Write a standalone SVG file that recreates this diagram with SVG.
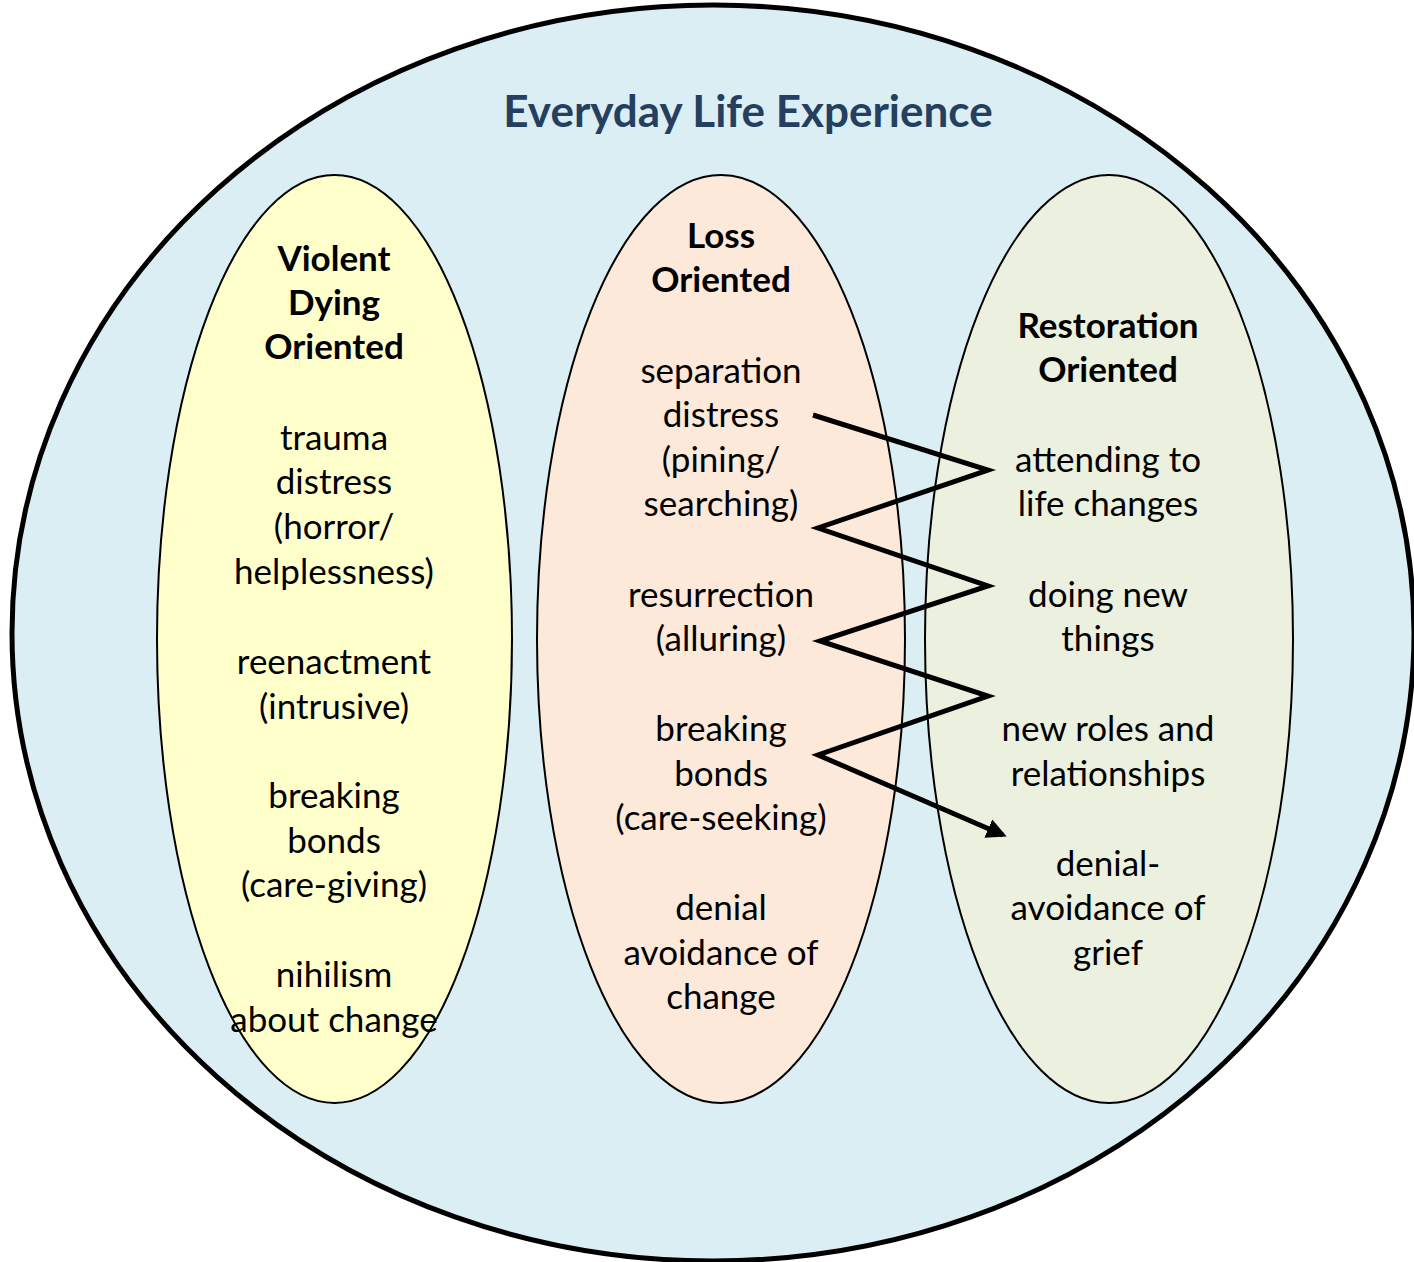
<svg xmlns="http://www.w3.org/2000/svg" width="1414" height="1262" viewBox="0 0 1414 1262">
<defs>
<style>
.t{font-family:Lato,"Liberation Sans",sans-serif;font-size:35px;fill:#000;text-anchor:middle}
.b{font-weight:bold}
.title{font-family:Lato,"Liberation Sans",sans-serif;font-size:44px;font-weight:bold;fill:#243F60;text-anchor:middle}
.in{stroke:#000;stroke-width:2}
</style>
<marker id="arr" viewBox="0 0 10 10" refX="8" refY="5" markerWidth="4" markerHeight="4" orient="auto" markerUnits="strokeWidth">
<path d="M0,0 L10,5 L0,10 Z" fill="#000"/>
</marker>
</defs>
<rect width="1414" height="1262" fill="#fff"/>
<g id="everyday">
<ellipse cx="713" cy="633" rx="701" ry="628" fill="#DAEEF3" stroke="#000" stroke-width="5"/>
<text class="title" x="748" y="127">Everyday Life Experience</text>
</g>
<g id="violent">
<ellipse class="in" cx="334.5" cy="639" rx="177.5" ry="464" fill="#FFFFCC"/>
<text class="t b" x="334" y="271">Violent</text>
<text class="t b" x="334" y="315">Dying</text>
<text class="t b" x="334" y="359">Oriented</text>
<text class="t" x="334" y="450">trauma</text>
<text class="t" x="334" y="494">distress</text>
<text class="t" x="334" y="539">(horror/</text>
<text class="t" x="334" y="584">helplessness)</text>
<text class="t" x="334" y="674">reenactment</text>
<text class="t" x="334" y="719">(intrusive)</text>
<text class="t" x="334" y="808">breaking</text>
<text class="t" x="334" y="853">bonds</text>
<text class="t" x="334" y="897">(care-giving)</text>
<text class="t" x="334" y="987">nihilism</text>
<text class="t" x="334" y="1032">about change</text>
</g>
<g id="loss">
<ellipse class="in" cx="721" cy="639" rx="184" ry="464" fill="#FDE9D9"/>
<text class="t b" x="721" y="248">Loss</text>
<text class="t b" x="721" y="292">Oriented</text>
<text class="t" x="721" y="383">separation</text>
<text class="t" x="721" y="427">distress</text>
<text class="t" x="721" y="472">(pining/</text>
<text class="t" x="721" y="516">searching)</text>
<text class="t" x="721" y="607">resurrection</text>
<text class="t" x="721" y="651">(alluring)</text>
<text class="t" x="721" y="741">breaking</text>
<text class="t" x="721" y="786">bonds</text>
<text class="t" x="721" y="830">(care-seeking)</text>
<text class="t" x="721" y="920">denial</text>
<text class="t" x="721" y="965">avoidance of</text>
<text class="t" x="721" y="1009">change</text>
</g>
<g id="restoration">
<ellipse class="in" cx="1109" cy="639" rx="184" ry="464" fill="#EBF1DE"/>
<text class="t b" x="1108" y="338">Restoration</text>
<text class="t b" x="1108" y="382">Oriented</text>
<text class="t" x="1108" y="472">attending to</text>
<text class="t" x="1108" y="516">life changes</text>
<text class="t" x="1108" y="607">doing new</text>
<text class="t" x="1108" y="651">things</text>
<text class="t" x="1108" y="741">new roles and</text>
<text class="t" x="1108" y="786">relationships</text>
<text class="t" x="1108" y="876">denial-</text>
<text class="t" x="1108" y="920">avoidance of</text>
<text class="t" x="1108" y="965">grief</text>
</g>
<g id="connectors">
<polyline points="813,415 988,470 818,528 988,586 820,641 988,696 818,755 1003,835" fill="none" stroke="#000" stroke-width="5" stroke-linejoin="miter" stroke-miterlimit="10" marker-end="url(#arr)"/>
</g>
</svg>
